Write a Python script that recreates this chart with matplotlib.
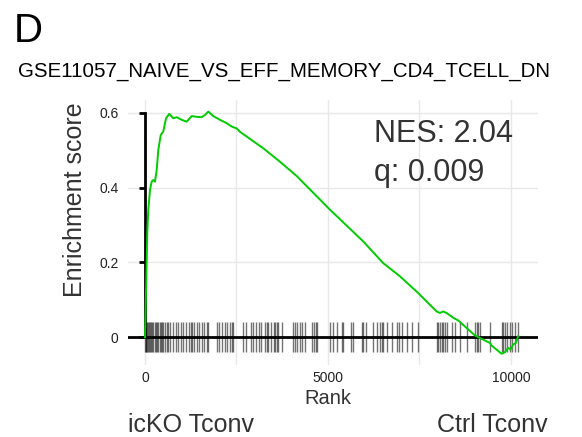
import numpy as np
import matplotlib
matplotlib.use("Agg")
import matplotlib.pyplot as plt

plt.rcParams['font.family'] = ['Liberation Sans', 'DejaVu Sans']

# running enrichment score
rank = [0, 27, 63, 90, 137, 183, 227, 273, 320, 363, 429, 500, 574, 664, 773,
        866, 1003, 1139, 1276, 1412, 1549, 1639, 1729, 1866, 2049, 2232, 2369,
        2505, 2595, 3232, 3688, 4144, 5054, 5965, 6511, 6966, 7467, 7969, 8059,
        8150, 8242, 8424, 8560, 9016, 9152, 9425, 9471, 9745, 9836, 9926, 9990,
        10062, 10136, 10199]
es = [0.0, 0.12, 0.279, 0.34, 0.394, 0.416, 0.42, 0.416, 0.447, 0.50, 0.54,
      0.55, 0.585, 0.597, 0.585, 0.588, 0.581, 0.576, 0.591, 0.589, 0.588,
      0.594, 0.603, 0.591, 0.581, 0.572, 0.563, 0.558, 0.549, 0.505, 0.469,
      0.431, 0.341, 0.256, 0.198, 0.163, 0.118, 0.069, 0.065, 0.069, 0.065,
      0.052, 0.045, 0.005, -0.002, -0.015, -0.022, -0.044, -0.040, -0.028,
      -0.033, -0.019, -0.015, 0.003]

# gene set hit positions
hits = [5, 20, 40, 63, 85, 109, 130, 164, 200, 230, 273, 300, 319, 364, 410,
        430, 455, 500, 546, 592, 637, 680, 774, 838, 911, 974, 1047, 1111, 1202,
        1247, 1293, 1339, 1411, 1475, 1548, 1612, 1685, 1730, 1958, 2022, 2094,
        2186, 2249, 2322, 2368, 2413, 2686, 2759, 2896, 2960, 3023, 3114, 3160,
        3278, 3324, 3369, 3442, 3524, 3552, 3597, 3643, 3734, 4053, 4098, 4162,
        4235, 4280, 4371, 4572, 4617, 4663, 4690, 5054, 5145, 5237, 5373, 5419,
        5628, 5692, 5920, 5965, 6038, 6238, 6330, 6420, 6466, 6511, 6603, 6740,
        6876, 6948, 7013, 7149, 7286, 7468, 7980, 8013, 8059, 8105, 8150, 8196,
        8242, 8380, 8470, 8606, 8790, 9016, 9062, 9107, 9152, 9425, 9745, 9790,
        9836, 9881, 9972, 10018, 10108, 10199]

nes_label = "NES: 2.04"
q_label = "q: 0.009"

fig = plt.figure(figsize=(5.82, 4.37), dpi=100)
ax = fig.add_axes([0.2199, 0.1648, 0.7045, 0.6064])

ax.set_xlim(-465, 10740)
ax.set_ylim(-0.074, 0.634)

for s in ax.spines.values():
    s.set_visible(False)
ax.spines['left'].set_visible(True)
ax.spines['left'].set_position(('data', 0))
ax.spines['left'].set_bounds(0, 0.6)
ax.spines['left'].set_linewidth(2)
ax.spines['left'].set_zorder(3)

ax.set_xticks([0, 2500, 5000, 7500, 10000])
ax.set_xticklabels(['0', '', '5000', '', '10000'])
ax.set_yticks([0, 0.2, 0.4, 0.6])
ax.set_yticklabels(['0', '0.2', '0.4', '0.6'])
ax.tick_params(axis='x', length=0, pad=4, labelsize=10, labelcolor='#222222')
ax.tick_params(axis='y', length=4, width=2, color='black', pad=15,
               labelsize=10, labelcolor='#222222')
ax.grid(True, color='#e8e8e8', lw=1)
ax.set_axisbelow(True)

ax.vlines(hits, -0.04, 0.04, color='black', lw=1, alpha=0.55, zorder=2)
ax.axhline(0, color='black', lw=2, zorder=3)
ax.plot(rank, es, color='#00cc00', lw=1.4, zorder=4)

ax.text(0.60, 0.8415, nes_label, transform=ax.transAxes, fontsize=22,
        color='#333333', ha='left', va='baseline')
ax.text(0.60, 0.694, q_label, transform=ax.transAxes, fontsize=22,
        color='#333333', ha='left', va='baseline')

fig.text(75 / 582, 1 - 200 / 437, 'Enrichment score', rotation=90,
         fontsize=18, color='#333333', ha='center', va='center')
fig.text(328 / 582, 1 - 399 / 437, 'Rank', fontsize=14.5, color='#333333',
         ha='center', va='center')
fig.text(128 / 582, 1 - 432 / 437, 'icKO Tconv', fontsize=18, color='#333333',
         ha='left', va='baseline')
fig.text(548 / 582, 1 - 432 / 437, 'Ctrl Tconv', fontsize=18, color='#333333',
         ha='right', va='baseline')

fig.text(14 / 582, 1 - 42 / 437, 'D', fontsize=29, color='black',
         ha='left', va='baseline')
fig.text(18 / 582, 1 - 71.5 / 437, 'GSE11057_NAIVE_VS_EFF_MEMORY_CD4_TCELL_DN',
         fontsize=14.8, color='black', ha='left', va='center')

fig.savefig('out.png', dpi=100)
